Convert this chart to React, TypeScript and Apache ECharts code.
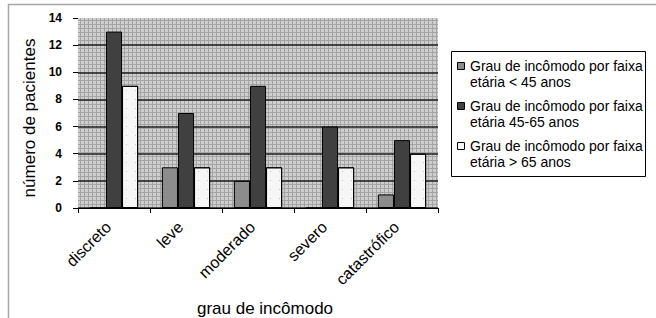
import React, { useEffect, useRef } from "react";
import * as echarts from "echarts";

const categories = ["discreto", "leve", "moderado", "severo", "catastrófico"];
const under45 = [0, 3, 2, 0, 1];
const from45to65 = [13, 7, 9, 6, 5];
const over65 = [9, 3, 3, 3, 4];
const seriesNames = [
  "Grau de incômodo por faixa etária < 45 anos",
  "Grau de incômodo por faixa etária 45-65 anos",
  "Grau de incômodo por faixa etária > 65 anos",
];
const legendLines = [
  ["Grau de incômodo por faixa", "etária < 45 anos"],
  ["Grau de incômodo por faixa", "etária 45-65 anos"],
  ["Grau de incômodo por faixa", "etária > 65 anos"],
];
const seriesColors = ["#8c8c8c", "#404040", "#f6f6f6"];
const yName = "número de pacientes";
const xName = "grau de incômodo";

function makePattern(): any {
  try {
    const c = document.createElement("canvas");
    c.width = 4;
    c.height = 4;
    const ctx = c.getContext("2d");
    if (!ctx) return "#bcbcbc";
    ctx.fillStyle = "#cecece";
    ctx.fillRect(0, 0, 4, 4);
    ctx.fillStyle = "#a4a4a4";
    ctx.fillRect(0, 0, 1, 4);
    ctx.fillRect(0, 0, 4, 1);
    return { image: c.toDataURL(), repeat: "repeat", imageWidth: 4, imageHeight: 4 };
  } catch (e) {
    return "#bcbcbc";
  }
}

export default function App() {
  const ref = useRef<HTMLDivElement>(null);
  useEffect(() => {
    if (!ref.current) return;
    const chart = echarts.init(ref.current, null, { renderer: "svg" });
    const seriesData = [under45, from45to65, over65];
    const font = "Liberation Sans, Arial, sans-serif";
    const legendChildren: any[] = [
      {
        type: "rect",
        shape: { x: 451.5, y: 51.5, width: 194, height: 125 },
        style: { fill: "#ffffff", stroke: "#000000", lineWidth: 1 },
      },
    ];
    const itemCenters = [66, 106, 146];
    legendLines.forEach((lines, i) => {
      const cy = itemCenters[i];
      legendChildren.push({
        type: "rect",
        shape: { x: 457.5, y: cy - 3.5, width: 7, height: 7 },
        style: { fill: seriesColors[i], stroke: "#000000", lineWidth: 1 },
      });
      lines.forEach((ln, j) => {
        legendChildren.push({
          type: "text",
          style: {
            text: ln,
            x: 470,
            y: cy + j * 15.5,
            fill: "#000000",
            font: `14px ${font}`,
            verticalAlign: "middle",
            textVerticalAlign: "middle",
          },
        });
      });
    });

    chart.setOption({
      animation: false,
      backgroundColor: "#ffffff",
      textStyle: { fontFamily: font },
      grid: {
        left: 78,
        right: 218,
        top: 18,
        bottom: 110,
        show: true,
        containLabel: false,
        outerBoundsMode: "none",
        backgroundColor: makePattern(),
        borderWidth: 0,
      },
      xAxis: {
        type: "category",
        data: categories,
        name: xName,
        nameLocation: "middle",
        nameGap: 92,
        nameTextStyle: { fontSize: 17, color: "#000", fontFamily: font, padding: [0, 0, 0, 14] },
        axisLine: { show: true, lineStyle: { color: "#000", width: 1 } },
        axisTick: { show: true, length: 5, alignWithLabel: false, lineStyle: { color: "#000" } },
        axisLabel: {
          rotate: 45,
          fontSize: 16,
          color: "#000",
          margin: 22,
          fontFamily: font,
          interval: 0,
          align: "right",
          verticalAlign: "bottom",
        },
      },
      yAxis: {
        type: "value",
        min: 0,
        max: 14,
        interval: 2,
        name: yName,
        nameLocation: "middle",
        nameGap: 37,
        nameTextStyle: { fontSize: 17, color: "#000", fontFamily: font, padding: [0, 10, 0, 0] },
        axisLine: { show: false },
        axisTick: { show: true, length: 5, lineStyle: { color: "#000" } },
        axisLabel: { fontSize: 12, fontWeight: "bold", color: "#000", margin: 16, fontFamily: font },
        splitLine: {
          show: true,
          lineStyle: {
            color: ["#1e1e1e", "#1e1e1e", "#1e1e1e", "#1e1e1e", "#1e1e1e", "#1e1e1e", "#1e1e1e", "rgba(0,0,0,0)"],
            width: 1.6,
          },
        },
      },
      series: seriesData.map((d, i) => ({
        type: "bar",
        name: seriesNames[i],
        data: d,
        barGap: "0%",
        barCategoryGap: "33%",
        itemStyle: {
          color: seriesColors[i],
          borderColor: "#000",
          borderWidth: 1,
          ...(i === 2
            ? {
                decal: {
                  symbol: "rect",
                  symbolSize: 1,
                  color: "#c4c4c4",
                  dashArrayX: [1, 8],
                  dashArrayY: [1, 8],
                  rotation: 0,
                },
              }
            : {}),
        },
      })),
      graphic: [
        {
          type: "polyline",
          shape: { points: [[8.5, 318], [8.5, 4.5], [656, 4.5]] },
          style: { stroke: "#a8a8a8", lineWidth: 1.5, fill: "none" },
          silent: true,
        },
        { type: "group", children: legendChildren },
      ],
    });
    return () => chart.dispose();
  }, []);
  return (
    <div
      ref={ref}
      style={{ position: "fixed", left: 0, top: 0, width: 656, height: 318 }}
    />
  );
}
